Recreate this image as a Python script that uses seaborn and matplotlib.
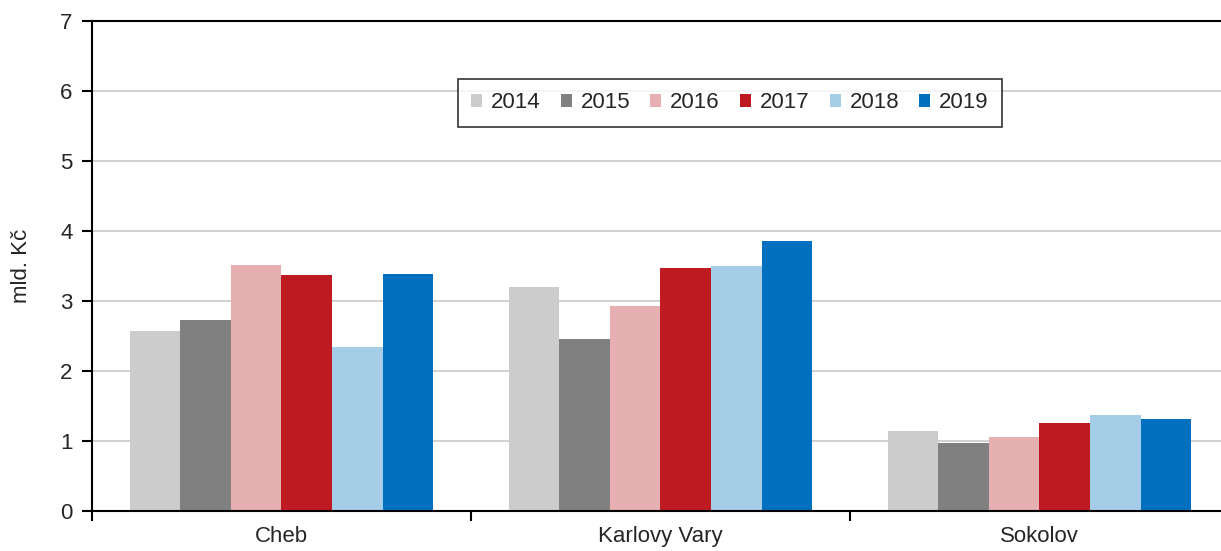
import pandas as pd
import matplotlib.pyplot as plt
import seaborn as sns

# === Data ===
districts = ["Cheb", "Karlovy Vary", "Sokolov"]
years = ["2014", "2015", "2016", "2017", "2018", "2019"]
v2014 = [2.57, 3.20, 1.14]
v2015 = [2.73, 2.46, 0.97]
v2016 = [3.51, 2.93, 1.06]
v2017 = [3.37, 3.47, 1.26]
v2018 = [2.34, 3.50, 1.37]
v2019 = [3.39, 3.86, 1.31]

colors = ["#CCCCCC", "#808080", "#E6AFB2", "#BE1A21", "#A6CDE8", "#0070BF"]

rows = []
for yr, vals in zip(years, [v2014, v2015, v2016, v2017, v2018, v2019]):
    for d, v in zip(districts, vals):
        rows.append({"okres": d, "rok": yr, "hodnota": v})
df = pd.DataFrame(rows)

sns.set_style("white")
plt.rcParams['font.family'] = ['Liberation Sans', 'DejaVu Sans']

fig = plt.figure(figsize=(12.21, 5.51), dpi=100)
ax = fig.add_axes([92 / 1221, 40 / 551, 1129 / 1221, 490 / 551])

sns.barplot(data=df, x="okres", y="hodnota", hue="rok", order=districts,
            hue_order=years, palette=colors, width=0.8, saturation=1,
            linewidth=0, errorbar=None, ax=ax)

ax.set_ylim(0, 7)
ax.set_xlim(-0.5, 2.479)
ax.set_yticks(range(0, 8))
ax.yaxis.grid(True, color="#C8C8C8", linewidth=1.2)
ax.set_axisbelow(True)

for s in ["left", "bottom", "top"]:
    ax.spines[s].set_color("black")
    ax.spines[s].set_linewidth(1.5)
ax.spines["right"].set_visible(False)

ax.tick_params(axis="y", direction="out", length=7, width=1.5, color="black",
               labelsize=16, pad=7, left=True)
ax.tick_params(axis="x", which="major", length=0, labelsize=16, pad=11)
ax.set_xticks([-0.5, 0.5, 1.5], minor=True)
ax.tick_params(axis="x", which="minor", direction="out", length=7, width=1.5,
               color="black", bottom=True)

ax.set_xlabel("")
ax.set_ylabel("mld. Kč", fontsize=16, labelpad=20)

leg = ax.legend(loc="center", bbox_to_anchor=(0.565, 0.833), ncol=6,
                frameon=True, fancybox=False, fontsize=16, handlelength=0.5,
                handleheight=0.5, handletextpad=0.4, columnspacing=0.9,
                borderpad=0.6, borderaxespad=0)
leg.get_frame().set_edgecolor("black")
leg.get_frame().set_linewidth(1.2)

fig.savefig("out.png", dpi=100)
